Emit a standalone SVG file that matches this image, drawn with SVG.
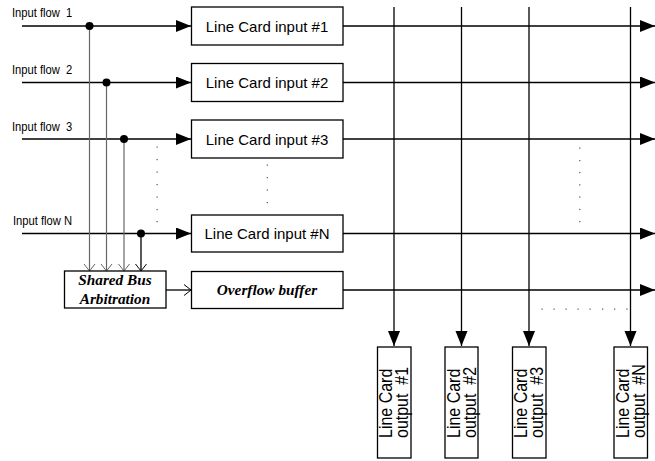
<svg xmlns="http://www.w3.org/2000/svg" width="655" height="461" viewBox="0 0 655 461">
<style>
.box{fill:#fff;stroke:#000;stroke-width:1.3}
.ln{fill:none;stroke:#000;stroke-width:1.3}
.gl{fill:none;stroke:#666;stroke-width:1.2}
.lbl{font-family:"Liberation Sans",Arial,sans-serif;font-size:11.2px;fill:#000;white-space:pre}
.lc{font-family:"Liberation Sans",Arial,sans-serif;font-size:15px;fill:#000;text-anchor:middle}
.oc{font-family:"Liberation Sans",Arial,sans-serif;font-size:16px;fill:#000;white-space:pre}
.bi{font-family:"Liberation Serif","Times New Roman",serif;font-size:15.3px;font-weight:bold;font-style:italic;fill:#000;text-anchor:middle}
.dot{fill:#555}
</style>
<defs>
<marker id="tri" markerUnits="userSpaceOnUse" markerWidth="16" markerHeight="14" refX="15" refY="6" orient="auto">
<path d="M0,0 L15,6 L0,12 Z" fill="#000"/>
</marker>
<marker id="open" markerUnits="userSpaceOnUse" markerWidth="10" markerHeight="14" refX="7" refY="6" orient="auto">
<path d="M0,0.5 L7,6 L0,11.5" fill="none" stroke="#000" stroke-width="1"/>
</marker>
<marker id="openg" markerUnits="userSpaceOnUse" markerWidth="10" markerHeight="14" refX="7" refY="6" orient="auto">
<path d="M0,0.5 L7,6 L0,11.5" fill="none" stroke="#666" stroke-width="1"/>
</marker>
</defs>

<g id="labels">
<text class="lbl" xml:space="preserve" transform="translate(12,17) scale(1,1.2)">Input flow  1</text>
<text class="lbl" xml:space="preserve" transform="translate(12,74) scale(1,1.2)">Input flow  2</text>
<text class="lbl" xml:space="preserve" transform="translate(12,131) scale(1,1.2)">Input flow  3</text>
<text class="lbl" transform="translate(13,225) scale(1,1.2)">Input flow N</text>
</g>

<g id="connectors">
<line class="ln" x1="22" y1="26" x2="191" y2="26" marker-end="url(#tri)"/>
<line class="ln" x1="22" y1="82.5" x2="191" y2="82.5" marker-end="url(#tri)"/>
<line class="ln" x1="22" y1="139" x2="191" y2="139" marker-end="url(#tri)"/>
<line class="ln" x1="22" y1="233.5" x2="191" y2="233.5" marker-end="url(#tri)"/>
<line class="gl" x1="89.5" y1="26" x2="89.5" y2="271" marker-end="url(#openg)"/>
<line class="gl" x1="106.5" y1="82.5" x2="106.5" y2="271" marker-end="url(#openg)"/>
<line class="gl" x1="124" y1="139" x2="124" y2="271" marker-end="url(#openg)"/>
<line class="ln" x1="141" y1="233.5" x2="141" y2="271" marker-end="url(#open)"/>
<circle cx="89.5" cy="26" r="4"/>
<circle cx="106.5" cy="82.5" r="4"/>
<circle cx="124" cy="139" r="4"/>
<circle cx="141" cy="233.5" r="4"/>
<line class="ln" x1="166" y1="290" x2="191" y2="290" marker-end="url(#open)"/>
<line class="ln" x1="343" y1="26" x2="655" y2="26" marker-end="url(#tri)"/>
<line class="ln" x1="343" y1="82.5" x2="655" y2="82.5" marker-end="url(#tri)"/>
<line class="ln" x1="343" y1="139" x2="655" y2="139" marker-end="url(#tri)"/>
<line class="ln" x1="343" y1="233.5" x2="655" y2="233.5" marker-end="url(#tri)"/>
<line class="ln" x1="343" y1="290" x2="655" y2="290" marker-end="url(#tri)"/>
<line class="ln" x1="394" y1="7" x2="394" y2="346" stroke-width="1.5" marker-end="url(#tri)"/>
<line class="ln" x1="461.5" y1="7" x2="461.5" y2="346" stroke-width="1.5" marker-end="url(#tri)"/>
<line class="ln" x1="529" y1="7" x2="529" y2="346" stroke-width="1.5" marker-end="url(#tri)"/>
<line class="ln" x1="630.5" y1="7" x2="630.5" y2="346" stroke-width="1.5" marker-end="url(#tri)"/>
</g>

<g id="ellipsis">
<rect class="dot" x="156.5" y="146.5" width="1.2" height="1.2"/>
<rect class="dot" x="156.5" y="159" width="1.2" height="1.2"/>
<rect class="dot" x="156.5" y="171.5" width="1.2" height="1.2"/>
<rect class="dot" x="156.5" y="184" width="1.2" height="1.2"/>
<rect class="dot" x="156.5" y="196.5" width="1.2" height="1.2"/>
<rect class="dot" x="156.5" y="209" width="1.2" height="1.2"/>
<rect class="dot" x="156.5" y="221" width="1.2" height="1.2"/>
<rect class="dot" x="266.7" y="164.5" width="1.2" height="1.2"/>
<rect class="dot" x="266.7" y="177" width="1.2" height="1.2"/>
<rect class="dot" x="266.7" y="189.5" width="1.2" height="1.2"/>
<rect class="dot" x="266.7" y="202" width="1.2" height="1.2"/>
<rect class="dot" x="579.2" y="147.5" width="1.2" height="1.2"/>
<rect class="dot" x="579.2" y="160" width="1.2" height="1.2"/>
<rect class="dot" x="579.2" y="172" width="1.2" height="1.2"/>
<rect class="dot" x="579.2" y="184.3" width="1.2" height="1.2"/>
<rect class="dot" x="579.2" y="196.5" width="1.2" height="1.2"/>
<rect class="dot" x="579.2" y="208.8" width="1.2" height="1.2"/>
<rect class="dot" x="579.2" y="221" width="1.2" height="1.2"/>
<rect class="dot" x="541.5" y="308.5" width="1.2" height="1.2"/>
<rect class="dot" x="553.5" y="308.5" width="1.2" height="1.2"/>
<rect class="dot" x="565.5" y="308.5" width="1.2" height="1.2"/>
<rect class="dot" x="577.5" y="308.5" width="1.2" height="1.2"/>
<rect class="dot" x="589.5" y="308.5" width="1.2" height="1.2"/>
<rect class="dot" x="602" y="308.5" width="1.2" height="1.2"/>
<rect class="dot" x="614" y="308.5" width="1.2" height="1.2"/>
<rect class="dot" x="626.3" y="308.5" width="1.2" height="1.2"/>
</g>

<g id="lc-in-1"><rect class="box" x="191.5" y="7" width="151.5" height="38"/><text class="lc" x="267" y="31.5">Line Card input #1</text></g>
<g id="lc-in-2"><rect class="box" x="191.5" y="63.5" width="151.5" height="38"/><text class="lc" x="267" y="88">Line Card input #2</text></g>
<g id="lc-in-3"><rect class="box" x="191.5" y="120" width="151.5" height="38"/><text class="lc" x="267" y="144.5">Line Card input #3</text></g>
<g id="lc-in-n"><rect class="box" x="191.5" y="215" width="151.5" height="37"/><text class="lc" x="267" y="238.5">Line Card input #N</text></g>
<g id="overflow"><rect class="box" x="191.5" y="271.5" width="151.5" height="37"/><text class="bi" x="267" y="294.5">Overflow buffer</text></g>
<g id="bus"><rect class="box" x="64.5" y="271" width="101.5" height="37"/><text class="bi" x="115" y="284.5">Shared Bus</text><text class="bi" x="115" y="303.5">Arbitration</text></g>

<g id="lc-out-1"><rect class="box" x="377.5" y="347" width="33.5" height="111"/>
<text class="oc" transform="translate(392,438) rotate(-90) scale(1,1.12)">Line Card</text>
<text class="oc" xml:space="preserve" transform="translate(408,438) rotate(-90) scale(1,1.12)">output  #1</text></g>
<g id="lc-out-2"><rect class="box" x="445" y="347" width="33" height="111"/>
<text class="oc" transform="translate(459.5,438) rotate(-90) scale(1,1.12)">Line Card</text>
<text class="oc" xml:space="preserve" transform="translate(475.5,438) rotate(-90) scale(1,1.12)">output  #2</text></g>
<g id="lc-out-3"><rect class="box" x="512.5" y="347" width="33.5" height="111"/>
<text class="oc" transform="translate(527,438) rotate(-90) scale(1,1.12)">Line Card</text>
<text class="oc" xml:space="preserve" transform="translate(543,438) rotate(-90) scale(1,1.12)">output  #3</text></g>
<g id="lc-out-n"><rect class="box" x="614" y="347" width="33.5" height="111"/>
<text class="oc" transform="translate(628.5,438) rotate(-90) scale(1,1.12)">Line Card</text>
<text class="oc" xml:space="preserve" transform="translate(644.5,438) rotate(-90) scale(1,1.12)">output  #N</text></g>
</svg>
